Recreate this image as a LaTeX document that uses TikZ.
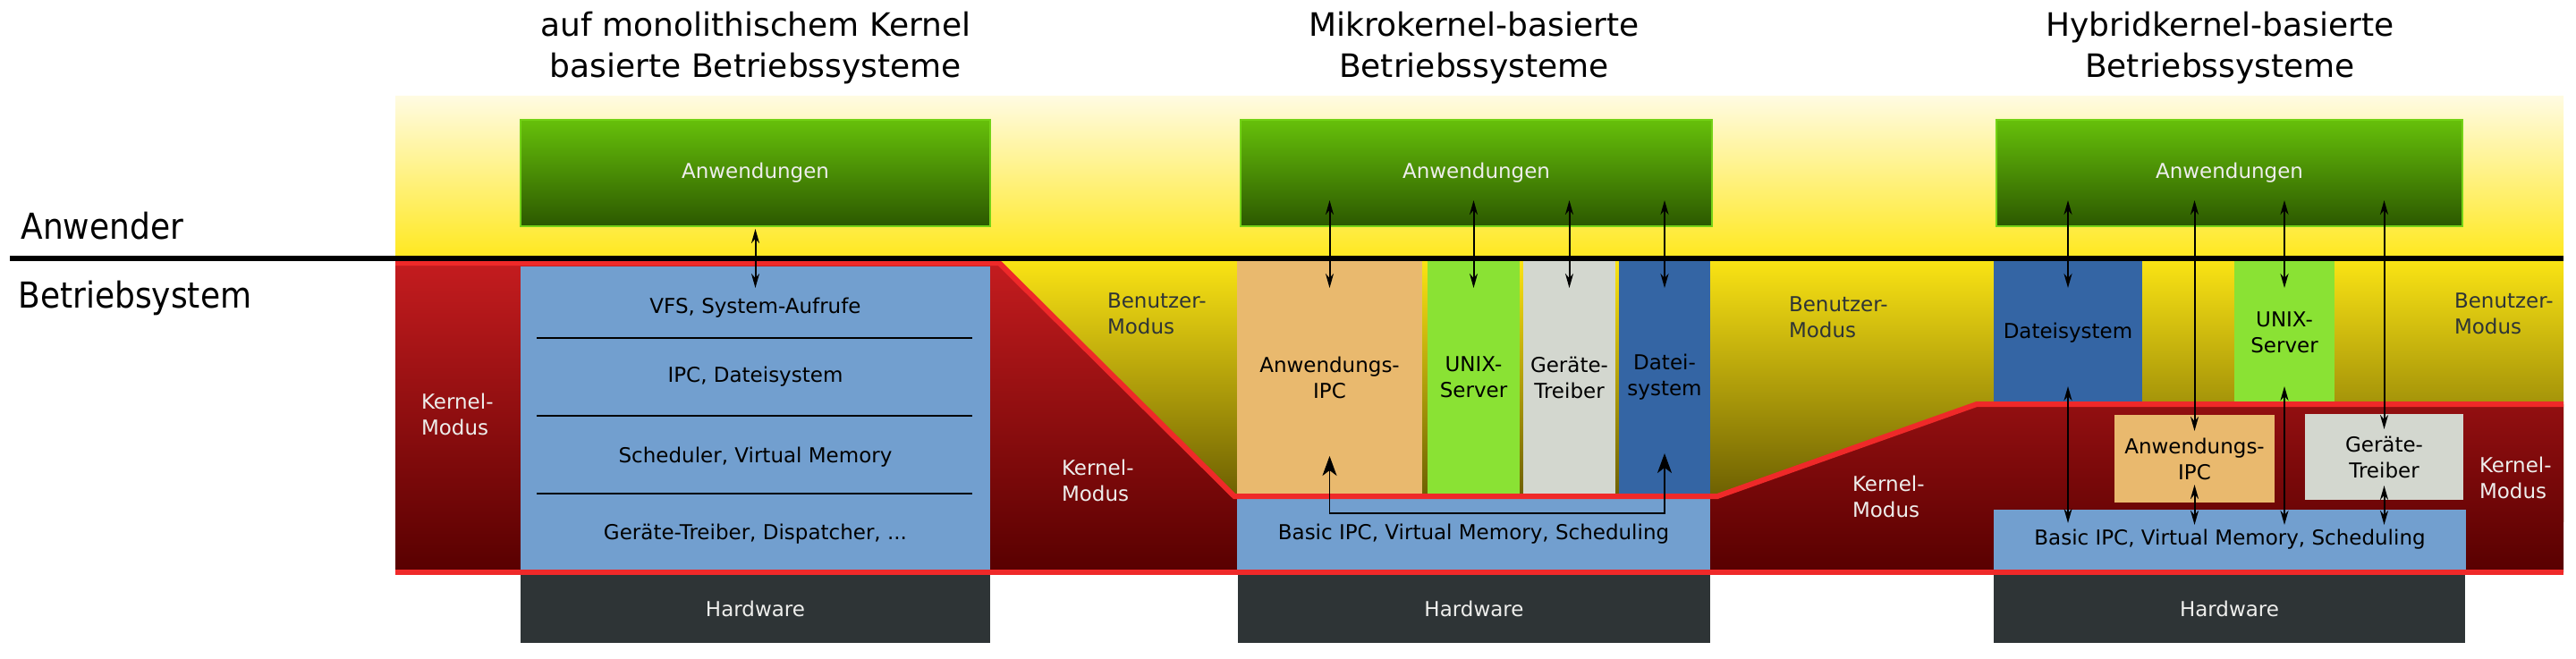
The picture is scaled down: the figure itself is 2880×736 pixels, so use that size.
\documentclass[tikz,border=0pt]{standalone}
\usepackage{fontspec}
\setmainfont{DejaVu Sans}
\newfontfamily\condfont[FakeStretch=0.9]{DejaVu Sans}
\usetikzlibrary{arrows.meta,calc}
\definecolor{bgcream}{HTML}{FFFBE2}
\definecolor{bgyellow}{HTML}{FFE81E}
\definecolor{lowtop}{HTML}{FBE414}
\definecolor{lowbot}{HTML}{5E5200}
\definecolor{kredtop}{HTML}{C41C1F}
\definecolor{kredbot}{HTML}{580000}
\definecolor{redline}{HTML}{EF2929}
\definecolor{skyblue}{HTML}{729FCF}
\definecolor{orangebox}{HTML}{E9B96E}
\definecolor{chameleon}{HTML}{8AE234}
\definecolor{alu}{HTML}{D3D7CF}
\definecolor{darkblue}{HTML}{3465A4}
\definecolor{hwgray}{HTML}{2E3436}
\definecolor{gtop}{HTML}{66C00A}
\definecolor{gbot}{HTML}{2C5800}
\definecolor{gborder}{HTML}{73D216}
\definecolor{lighttxt}{HTML}{EEEEEC}
\definecolor{modedark}{HTML}{2E3436}
\begin{document}
\begin{tikzpicture}[x=0.5pt,y=-0.5pt,
  smallfont/.style={font=\fontsize{11.5pt}{14.5pt}\selectfont},
  box/.style={rectangle, inner sep=0pt, outer sep=0pt, smallfont, align=center, text=black},
  appbox/.style={box, top color=gtop, bottom color=gbot, draw=gborder, line width=0.8pt,
    text=lighttxt, minimum height=59.5pt},
  hwbox/.style={box, fill=hwgray, text=lighttxt, minimum height=38pt},
  tallbox/.style={box, minimum height=130pt},
  lbl/.style={inner sep=0pt, outer sep=0pt, anchor=base west, align=left, smallfont},
  umode/.style={lbl, text=modedark},
  kmode/.style={lbl, text=lighttxt},
  titlestyle/.style={inner sep=0pt, anchor=base, align=center, font=\fontsize{18pt}{23pt}\selectfont},
  sidelabel/.style={inner sep=0pt, anchor=base west, font=\condfont\fontsize{20pt}{24pt}\selectfont},
  txt/.style={inner sep=0pt, smallfont, text=black},
  sepline/.style={line width=1.1pt, black},
  dbl/.style={line width=1pt, {Stealth[length=8pt,width=4.5pt,inset=2.5pt]}-{Stealth[length=8pt,width=4.5pt,inset=2.5pt]}},
  ipcarr/.style={line width=0.9pt, {Stealth[length=11pt,width=8pt,inset=3pt]}-{Stealth[length=11pt,width=8pt,inset=3pt]}}
]
\useasboundingbox (0,0) rectangle (2880,736);

% titles (anchor base = baseline of the last line)
\node[titlestyle] (t1) at (845,86) {auf monolithischem Kernel\\basierte Betriebssysteme};
\node[titlestyle] (t2) at (1648,86) {Mikrokernel-basierte\\Betriebssysteme};
\node[titlestyle] (t3) at (2482,86) {Hybridkernel-basierte\\Betriebssysteme};

% background (user mode)
\shade[top color=bgcream, bottom color=bgyellow] (442,107) rectangle (2866,289.5);
\shade[top color=lowtop, bottom color=lowbot] (442,289) rectangle (2866,583);

% kernel region
\shade[top color=kredtop, bottom color=kredbot]
  (442,294) -- (1117,294) -- (1380,555) -- (1920,555) -- (2210,452) -- (2866,452)
  -- (2866,640) -- (442,640) -- cycle;

% side labels
\node[sidelabel] (anw) at (23,267) {Anwender};
\node[sidelabel] (bs) at (20,344) {Betriebsystem};

% application boxes
\node[appbox, minimum width=262.5pt] (appA) at (844.5,193.5) {Anwendungen};
\node[appbox, minimum width=263.5pt] (appB) at (1650.5,193.5) {Anwendungen};
\node[appbox, minimum width=260.5pt] (appC) at (2492.5,193.5) {Anwendungen};

% hardware
\node[hwbox, minimum width=262.5pt] (hwA) at (844.5,681) {Hardware};
\node[hwbox, minimum width=264pt] (hwB) at (1648,681) {Hardware};
\node[hwbox, minimum width=263.5pt] (hwC) at (2492.5,681) {Hardware};

% monolithic kernel
\node[box, fill=skyblue, minimum width=262.5pt, minimum height=169.5pt] (kernA) at (844.5,467.5) {};
\node[txt] (vfs) at (844.5,344) {VFS, System-Aufrufe};
\node[txt] (ipcfs) at (844.5,421) {IPC, Dateisystem};
\node[txt] (sched) at (844.5,511) {Scheduler, Virtual Memory};
\node[txt] (drvdisp) at (844.5,597) {Geräte-Treiber, Dispatcher, ...};
\draw[sepline] (600,378) -- (1087,378);
\draw[sepline] (600,465) -- (1087,465);
\draw[sepline] (600,552) -- (1087,552);

% microkernel
\node[tallbox, fill=orangebox, minimum width=103.5pt] (ipcB) at (1486.5,422) {Anwendungs-\\IPC};
\node[tallbox, fill=chameleon, minimum width=51.5pt] (unixB) at (1647.5,422) {UNIX-\\Server};
\node[tallbox, fill=alu, minimum width=51.5pt] (drvB) at (1754.5,422) {Geräte-\\Treiber};
\node[tallbox, fill=darkblue, minimum width=51pt] (fsB) at (1861,422) {Datei-\\system};
\node[box, fill=skyblue, minimum width=264.5pt, minimum height=40pt] (basicB) at (1647.5,597) {Basic IPC, Virtual Memory, Scheduling};

% hybrid kernel
\node[box, fill=darkblue, minimum width=83pt, minimum height=80pt] (fsC) at (2312,372) {Dateisystem};
\node[box, fill=chameleon, minimum width=56pt, minimum height=80pt] (unixC) at (2554,372) {UNIX-\\Server};
\node[box, fill=orangebox, minimum width=89.5pt, minimum height=49pt] (ipcC) at (2453.5,513) {Anwendungs-\\IPC};
\node[box, fill=alu, minimum width=88.5pt, minimum height=48pt] (drvC) at (2665.5,511) {Geräte-\\Treiber};
\node[box, fill=skyblue, minimum width=264pt, minimum height=33.5pt] (basicC) at (2493,603.5) {Basic IPC, Virtual Memory, Scheduling};

% red borders
\draw[redline, line width=3pt, line join=miter]
  (442,294) -- (1117,294) -- (1380,555) -- (1920,555) -- (2210,452) -- (2866,452);
\draw[redline, line width=3pt] (442,640) -- (2866,640);

% user / kernel separation
\draw[line width=2.75pt] (11,289) -- (2866,289);

% mode labels (anchor base west = baseline of the last line)
\node[kmode] (kmA) at (471,486) {Kernel-\\Modus};
\node[umode] (umB) at (1238,373) {Benutzer-\\Modus};
\node[kmode] (kmB) at (1187,560) {Kernel-\\Modus};
\node[umode] (umM) at (2000,377) {Benutzer-\\Modus};
\node[kmode] (kmM) at (2071,578) {Kernel-\\Modus};
\node[umode] (umC) at (2744,373) {Benutzer-\\Modus};
\node[kmode] (kmC) at (2772,557) {Kernel-\\Modus};

% arrows monolithic
\draw[dbl] ($(appA.south)+(0,3)$) -- ($(kernA.north)+(0,24)$);

% arrows microkernel
\foreach \s in {ipcB,unixB,drvB,fsB}{
  \draw[dbl] ($(appB.south -| \s.north)+(0,-29)$) -- ($(\s.north)+(0,30)$);
}
\coordinate (bus) at ($(basicB.north)+(0,17)$);
\draw[ipcarr] ($(ipcB.south)+(0,-42)$) |- (bus) -| ($(fsB.south)+(0,-45)$);

% arrows hybrid
\draw[dbl] ($(appC.south -| fsC.north)+(0,-29)$) -- ($(fsC.north)+(0,30)$);
\draw[dbl] ($(appC.south -| unixC.north)+(0,-29)$) -- ($(unixC.north)+(0,30)$);
\draw[dbl] ($(appC.south -| ipcC.north)+(0,-29)$) -- ($(ipcC.north)+(0,18)$);
\draw[dbl] ($(appC.south -| drvC.north)+(0,-29)$) -- ($(drvC.north)+(0,17)$);
\draw[dbl] ($(fsC.south)+(0,-20)$) -- ($(basicC.north -| fsC.south)+(0,15)$);
\draw[dbl] ($(unixC.south)+(0,-20)$) -- ($(basicC.north -| unixC.south)+(0,17)$);
\draw[dbl] ($(ipcC.south)+(0,-20)$) -- ($(basicC.north -| ipcC.south)+(0,17)$);
\draw[dbl] ($(drvC.south)+(0,-16)$) -- ($(basicC.north -| drvC.south)+(0,17)$);
\end{tikzpicture}
\end{document}
